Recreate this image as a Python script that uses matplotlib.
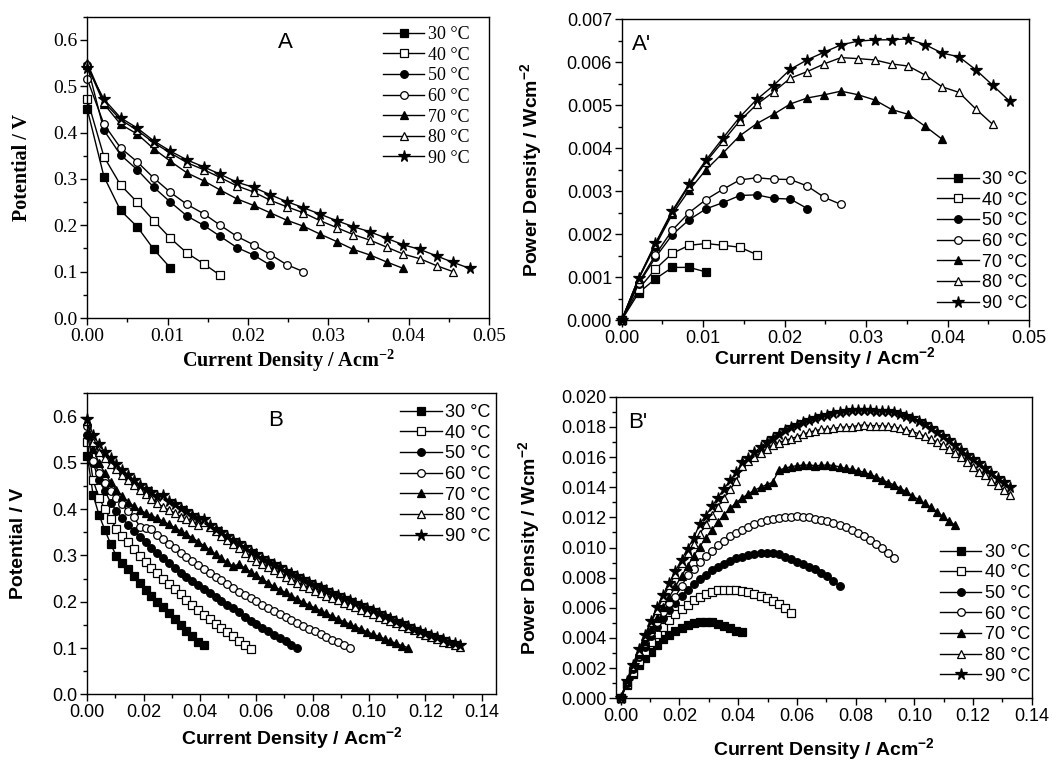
import matplotlib.pyplot as plt
from matplotlib.ticker import MultipleLocator, FormatStrFormatter

plt.rcParams['mathtext.default'] = 'regular'

# current density steps (A cm^-2), shared by all polarisation runs
current = [0.0, 0.00207, 0.00414, 0.00621, 0.00828, 0.01035, 0.01242, 0.01449,
           0.01656, 0.01863, 0.0207, 0.02277, 0.02484, 0.02691, 0.02898, 0.03105,
           0.03312, 0.03519, 0.03726, 0.03933, 0.0414, 0.04347, 0.04554, 0.04761,
           0.04968, 0.05175, 0.05382, 0.05589, 0.05796, 0.06003, 0.0621, 0.06417,
           0.06624, 0.06831, 0.07038, 0.07245, 0.07452, 0.07659, 0.07866, 0.08073,
           0.0828, 0.08487, 0.08694, 0.08901, 0.09108, 0.09315, 0.09522, 0.09729,
           0.09936, 0.10143, 0.1035, 0.10557, 0.10764, 0.10971, 0.11178, 0.11385,
           0.11592, 0.11799, 0.12006, 0.12213, 0.1242, 0.12627, 0.12834, 0.13041,
           0.13248]

temps = ['30 °C', '40 °C', '50 °C', '60 °C', '70 °C', '80 °C', '90 °C']

# panel A potentials (V)
pot_a_30 = [0.450, 0.305, 0.232, 0.197, 0.148, 0.108]
pot_a_40 = [0.472, 0.348, 0.287, 0.250, 0.210, 0.172, 0.140, 0.117, 0.092]
pot_a_50 = [0.545, 0.405, 0.352, 0.320, 0.282, 0.250, 0.220, 0.200, 0.176, 0.152,
            0.136, 0.114]
pot_a_60 = [0.515, 0.418, 0.367, 0.337, 0.302, 0.271, 0.245, 0.225, 0.200, 0.176,
            0.158, 0.137, 0.115, 0.100]
pot_a_70 = [0.545, 0.462, 0.418, 0.397, 0.365, 0.338, 0.313, 0.296, 0.276, 0.257,
            0.243, 0.227, 0.211, 0.198, 0.181, 0.165, 0.148, 0.136, 0.121, 0.107]
pot_a_80 = [0.550, 0.466, 0.428, 0.405, 0.378, 0.356, 0.335, 0.320, 0.303, 0.285,
            0.272, 0.254, 0.240, 0.227, 0.210, 0.195, 0.180, 0.168, 0.153, 0.138,
            0.128, 0.113, 0.100]
pot_a_90 = [0.540, 0.472, 0.432, 0.410, 0.382, 0.360, 0.341, 0.326, 0.310, 0.293,
            0.282, 0.266, 0.251, 0.238, 0.224, 0.210, 0.197, 0.186, 0.172, 0.158,
            0.148, 0.134, 0.120, 0.107]

# panel B potentials (V)
pot_b_30 = [0.515, 0.430, 0.388, 0.355, 0.325, 0.298, 0.283, 0.270, 0.255, 0.240,
            0.226, 0.213, 0.200, 0.188, 0.175, 0.162, 0.149, 0.137, 0.125, 0.114,
            0.106]
pot_b_40 = [0.545, 0.462, 0.425, 0.400, 0.378, 0.358, 0.342, 0.328, 0.313, 0.299,
            0.286, 0.273, 0.262, 0.250, 0.238, 0.227, 0.216, 0.204, 0.193, 0.182,
            0.172, 0.162, 0.152, 0.143, 0.134, 0.125, 0.116, 0.107, 0.098]
pot_b_50 = [0.560, 0.500, 0.462, 0.440, 0.414, 0.396, 0.380, 0.366, 0.352, 0.340,
            0.328, 0.316, 0.305, 0.294, 0.283, 0.273, 0.263, 0.254, 0.245, 0.236,
            0.227, 0.218, 0.210, 0.202, 0.194, 0.186, 0.178, 0.168, 0.159, 0.151,
            0.143, 0.136, 0.129, 0.122, 0.115, 0.107, 0.100]
pot_b_60 = [0.580, 0.505, 0.478, 0.456, 0.440, 0.425, 0.410, 0.395, 0.383, 0.362,
            0.360, 0.358, 0.345, 0.335, 0.325, 0.315, 0.306, 0.297, 0.288, 0.279,
            0.270, 0.262, 0.254, 0.246, 0.238, 0.230, 0.222, 0.215, 0.208, 0.201,
            0.194, 0.187, 0.180, 0.173, 0.167, 0.160, 0.154, 0.148, 0.142, 0.136,
            0.130, 0.124, 0.118, 0.112, 0.106, 0.100]
pot_b_70 = [0.590, 0.530, 0.500, 0.478, 0.458, 0.442, 0.428, 0.416, 0.406, 0.398,
            0.392, 0.386, 0.380, 0.374, 0.367, 0.360, 0.353, 0.346, 0.338, 0.330,
            0.321, 0.312, 0.303, 0.294, 0.285, 0.277, 0.281, 0.273, 0.265, 0.257,
            0.249, 0.241, 0.233, 0.226, 0.220, 0.213, 0.206, 0.199, 0.193, 0.187,
            0.181, 0.175, 0.169, 0.163, 0.157, 0.152, 0.146, 0.141, 0.135, 0.130,
            0.125, 0.120, 0.115, 0.110, 0.105, 0.101]
pot_b_80 = [0.590, 0.545, 0.523, 0.510, 0.498, 0.486, 0.474, 0.462, 0.452, 0.442,
            0.432, 0.422, 0.413, 0.405, 0.398, 0.392, 0.384, 0.378, 0.372, 0.366,
            0.372, 0.362, 0.352, 0.342, 0.333, 0.324, 0.315, 0.306, 0.297, 0.289,
            0.282, 0.275, 0.268, 0.261, 0.254, 0.247, 0.241, 0.235, 0.229, 0.224,
            0.219, 0.213, 0.208, 0.203, 0.198, 0.193, 0.188, 0.183, 0.178, 0.173,
            0.168, 0.163, 0.158, 0.153, 0.148, 0.143, 0.138, 0.133, 0.128, 0.123,
            0.119, 0.114, 0.110, 0.106, 0.102]
pot_b_90 = [0.595, 0.560, 0.540, 0.524, 0.510, 0.497, 0.485, 0.474, 0.463, 0.453,
            0.444, 0.436, 0.428, 0.430, 0.418, 0.410, 0.402, 0.395, 0.388, 0.381,
            0.378, 0.366, 0.358, 0.350, 0.342, 0.334, 0.326, 0.318, 0.310, 0.302,
            0.295, 0.288, 0.281, 0.274, 0.267, 0.261, 0.255, 0.249, 0.243, 0.237,
            0.231, 0.225, 0.219, 0.214, 0.209, 0.2035, 0.198, 0.1925, 0.187, 0.1815,
            0.176, 0.170, 0.164, 0.1585, 0.153, 0.1475, 0.142, 0.137, 0.132, 0.1275,
            0.123, 0.1185, 0.114, 0.110, 0.106]

pots_a = [pot_a_30, pot_a_40, pot_a_50, pot_a_60, pot_a_70, pot_a_80, pot_a_90]
pots_b = [pot_b_30, pot_b_40, pot_b_50, pot_b_60, pot_b_70, pot_b_80, pot_b_90]

markers = ['s', 's', 'o', 'o', '^', '^', '*']
faces = ['k', 'w', 'k', 'w', 'k', 'w', 'k']

serif = 'Liberation Serif'
sans = 'Liberation Sans'
xlab = 'Current Density / Acm$^{-2}$'
plab = 'Power Density / Wcm$^{-2}$'

fig = plt.figure(figsize=(10.52, 7.61), dpi=100)
ax_a = fig.add_axes([0.0830, 0.5821, 0.3818, 0.3959])
ax_ap = fig.add_axes([0.5910, 0.5795, 0.3872, 0.3951])
ax_b = fig.add_axes([0.0830, 0.0876, 0.3882, 0.3955])
ax_bp = fig.add_axes([0.5856, 0.0824, 0.3952, 0.3963])


def draw(ax, pots, power, ms):
    for lab, v, m, fc in zip(temps, pots, markers, faces):
        x = current[:len(v)]
        # power density is the product of the measured current and potential
        y = [c * p for c, p in zip(x, v)] if power else v
        size = ms + 3 if m == '*' else ms
        ax.plot(x, y, marker=m, color='k', mfc=fc, mec='k', ms=size, lw=1,
                mew=0.9, label=lab, clip_on=False)


def style(ax, fam, xmaj, ymaj, xfmt, yfmt, fs):
    ax.xaxis.set_major_locator(MultipleLocator(xmaj))
    ax.xaxis.set_minor_locator(MultipleLocator(xmaj / 2))
    ax.yaxis.set_major_locator(MultipleLocator(ymaj))
    ax.yaxis.set_minor_locator(MultipleLocator(ymaj / 2))
    ax.xaxis.set_major_formatter(FormatStrFormatter(xfmt))
    ax.yaxis.set_major_formatter(FormatStrFormatter(yfmt))
    ax.tick_params(which='both', direction='out', top=False, right=False)
    ax.tick_params(which='major', length=5, width=1, labelsize=fs, pad=2)
    ax.tick_params(which='minor', length=3, width=1)
    for t in ax.get_xticklabels() + ax.get_yticklabels():
        t.set_family(fam)
    for s in ax.spines.values():
        s.set_linewidth(1)


def legend(ax, fam, x, y, fs):
    ax.legend(loc='upper left', bbox_to_anchor=(x, y), frameon=False,
              prop={'family': fam, 'size': fs}, numpoints=1, handlelength=2.3,
              handletextpad=0.2, labelspacing=0.2, borderaxespad=0, borderpad=0)


# A: polarisation, low range
draw(ax_a, pots_a, False, 5.5)
ax_a.set_xlim(0, 0.05)
ax_a.set_ylim(0, 0.65)
style(ax_a, serif, 0.01, 0.1, '%.2f', '%.1f', 14)
ax_a.set_xlabel(xlab, family=serif, fontsize=14.5, fontweight='bold')
ax_a.set_ylabel('Potential / V', family=serif, fontsize=14.5, fontweight='bold')
ax_a.xaxis.set_label_coords(0.5, -0.10)
ax_a.yaxis.set_label_coords(-0.138, 0.5)
ax_a.text(0.492, 0.913, 'A', transform=ax_a.transAxes, family=sans,
          fontsize=16, ha='center', va='center')
legend(ax_a, serif, 0.736, 0.969, 13)

# A': power density
draw(ax_ap, pots_a, True, 5.5)
ax_ap.set_xlim(0, 0.05)
ax_ap.set_ylim(0, 0.007)
style(ax_ap, sans, 0.01, 0.001, '%.2f', '%.3f', 13)
ax_ap.set_xlabel(xlab, family=sans, fontsize=14, fontweight='bold')
ax_ap.set_ylabel(plab, family=sans, fontsize=14, fontweight='bold')
ax_ap.xaxis.set_label_coords(0.5, -0.083)
ax_ap.yaxis.set_label_coords(-0.191, 0.5)
ax_ap.text(0.025, 0.915, "A'", transform=ax_ap.transAxes, family=sans,
           fontsize=16, ha='left', va='center')
legend(ax_ap, sans, 0.774, 0.495, 13)

# B: polarisation, high range
draw(ax_b, pots_b, False, 5.5)
ax_b.set_xlim(0, 0.145)
ax_b.set_ylim(0, 0.65)
style(ax_b, sans, 0.02, 0.1, '%.2f', '%.1f', 13)
ax_b.set_xlabel(xlab, family=sans, fontsize=14, fontweight='bold')
ax_b.set_ylabel('Potential / V', family=sans, fontsize=14, fontweight='bold')
ax_b.xaxis.set_label_coords(0.5, -0.102)
ax_b.yaxis.set_label_coords(-0.148, 0.5)
ax_b.text(0.462, 0.911, 'B', transform=ax_b.transAxes, family=sans,
          fontsize=16, ha='center', va='center')
legend(ax_b, sans, 0.766, 0.964, 13)

# B': power density
draw(ax_bp, pots_b, True, 5.5)
ax_bp.set_xlim(-0.0016, 0.14)
ax_bp.set_ylim(0, 0.020)
style(ax_bp, sans, 0.02, 0.002, '%.2f', '%.3f', 13)
ax_bp.set_xlabel(xlab, family=sans, fontsize=14, fontweight='bold')
ax_bp.set_ylabel(plab, family=sans, fontsize=14, fontweight='bold')
ax_bp.xaxis.set_label_coords(0.5, -0.126)
ax_bp.yaxis.set_label_coords(-0.178, 0.5)
ax_bp.text(0.030, 0.916, "B'", transform=ax_bp.transAxes, family=sans,
           fontsize=16, ha='left', va='center')
legend(ax_bp, sans, 0.779, 0.512, 13)

fig.savefig('out.png', dpi=100)
